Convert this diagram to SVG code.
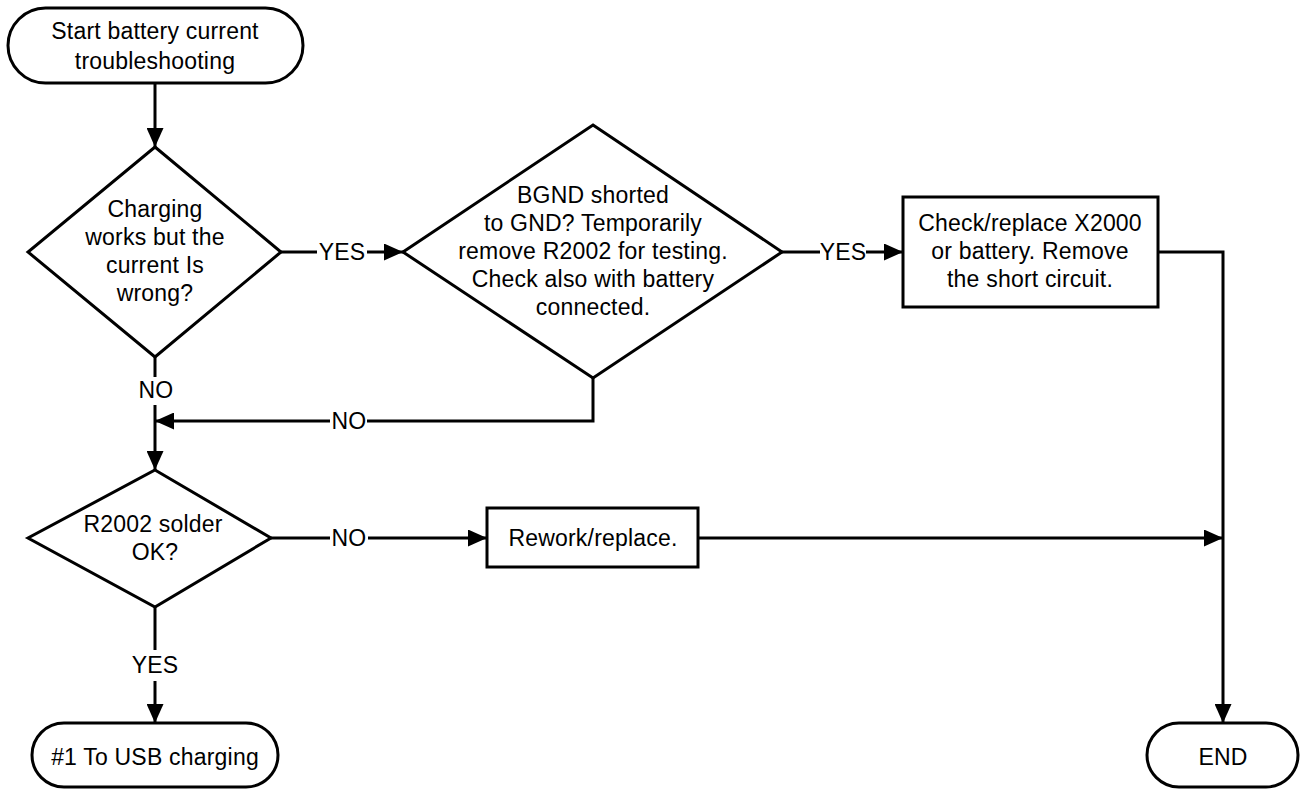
<svg xmlns="http://www.w3.org/2000/svg" width="1300" height="790" viewBox="0 0 1300 790">
  <style>
    .shape { fill: #ffffff; stroke: #000000; stroke-width: 3; }
    .wire { fill: none; stroke: #000000; stroke-width: 3; }
    .txt { font-family: "Liberation Sans", Arial, sans-serif; font-size: 23px; letter-spacing: 0.2px; fill: #000000; text-anchor: middle; }
  </style>
  <defs>
    <marker id="arrow" viewBox="0 0 19 17" refX="19" refY="8.5" markerWidth="19" markerHeight="17" markerUnits="userSpaceOnUse" orient="auto">
      <path d="M0,0 L19,8.5 L0,17 Z" fill="#000000"/>
    </marker>
  </defs>
  <rect width="1300" height="790" fill="#ffffff"/>

  <!-- connectors -->
  <g id="connectors">
    <path class="wire" d="M155,83 V147" marker-end="url(#arrow)"/>
    <path class="wire" d="M281,252 H317"/>
    <path class="wire" d="M367,252 H403" marker-end="url(#arrow)"/>
    <text class="txt" x="342" y="260">YES</text>
    <path class="wire" d="M782,252 H820"/>
    <path class="wire" d="M866,252 H903" marker-end="url(#arrow)"/>
    <text class="txt" x="843" y="260">YES</text>
    <path class="wire" d="M1158,252 H1223 V723" marker-end="url(#arrow)"/>
    <path class="wire" d="M593,378 V421 H367"/>
    <path class="wire" d="M330,421 H155" marker-end="url(#arrow)"/>
    <text class="txt" x="349" y="429">NO</text>
    <path class="wire" d="M155,357 V377"/>
    <text class="txt" x="156" y="398">NO</text>
    <path class="wire" d="M155,405 V470" marker-end="url(#arrow)"/>
    <path class="wire" d="M271,538 H330"/>
    <path class="wire" d="M368,538 H487" marker-end="url(#arrow)"/>
    <text class="txt" x="349" y="546">NO</text>
    <path class="wire" d="M698,538 H1223" marker-end="url(#arrow)"/>
    <path class="wire" d="M155,607 V650"/>
    <text class="txt" x="155" y="673">YES</text>
    <path class="wire" d="M155,681 V723" marker-end="url(#arrow)"/>
  </g>

  <!-- start terminal -->
  <g id="start">
    <rect class="shape" x="8" y="8" width="295" height="75" rx="37.5" ry="37.5"/>
    <text class="txt" x="155" y="39">Start battery current</text>
    <text class="txt" x="155" y="69">troubleshooting</text>
  </g>

  <!-- decision: charging current -->
  <g id="decision-current">
    <polygon class="shape" points="155,147 281,252 155,357 28,252"/>
    <text class="txt" x="155" y="217">Charging</text>
    <text class="txt" x="155" y="245">works but the</text>
    <text class="txt" x="155" y="273">current Is</text>
    <text class="txt" x="155" y="301">wrong?</text>
  </g>

  <!-- decision: BGND short -->
  <g id="decision-bgnd">
    <polygon class="shape" points="593,125 782,252 593,378 403,252"/>
    <text class="txt" x="593" y="203">BGND shorted</text>
    <text class="txt" x="593" y="231">to GND? Temporarily</text>
    <text class="txt" x="593" y="259">remove R2002 for testing.</text>
    <text class="txt" x="593" y="287">Check also with battery</text>
    <text class="txt" x="593" y="315">connected.</text>
  </g>

  <!-- action: check X2000 -->
  <g id="action-check">
    <rect class="shape" x="903" y="197" width="255" height="110"/>
    <text class="txt" x="1030" y="231">Check/replace X2000</text>
    <text class="txt" x="1030" y="259">or battery. Remove</text>
    <text class="txt" x="1030" y="287">the short circuit.</text>
  </g>

  <!-- decision: solder -->
  <g id="decision-solder">
    <polygon class="shape" points="155,470 271,538 155,607 28,538"/>
    <text class="txt" x="153" y="532">R2002 solder</text>
    <text class="txt" x="155" y="560">OK?</text>
  </g>

  <!-- action: rework -->
  <g id="action-rework">
    <rect class="shape" x="487" y="508" width="211" height="59"/>
    <text class="txt" x="593" y="546">Rework/replace.</text>
  </g>

  <!-- terminal: USB charging -->
  <g id="usb-charging">
    <rect class="shape" x="32" y="723" width="246" height="64" rx="32" ry="32"/>
    <text class="txt" x="155" y="765">#1 To USB charging</text>
  </g>

  <!-- terminal: end -->
  <g id="end">
    <rect class="shape" x="1147" y="723" width="151" height="64" rx="32" ry="32"/>
    <text class="txt" x="1223" y="765">END</text>
  </g>
</svg>
